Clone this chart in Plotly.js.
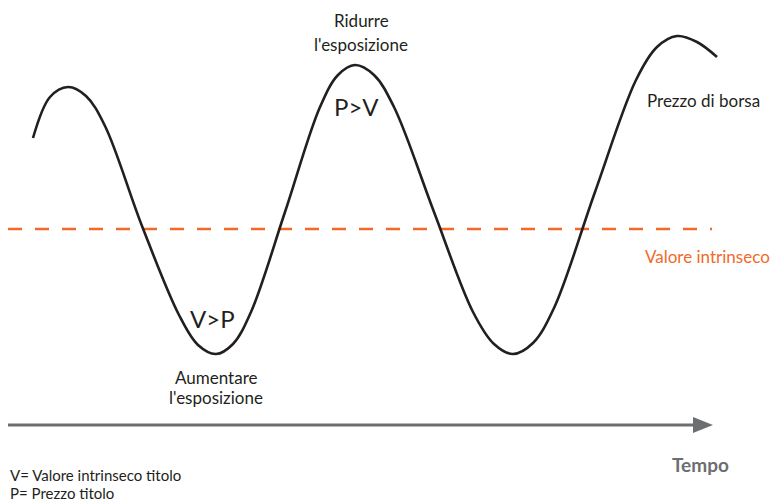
<!DOCTYPE html>
<html>
<head>
<meta charset="utf-8">
<script src="https://cdn.plot.ly/plotly-3.0.1.min.js"></script>
<style>html,body{margin:0;padding:0;background:#fff;}#chart{width:775px;height:503px;}</style>
</head>
<body>
<div id="chart"></div>
<script>
// Price curve samples (horizontal = time, vertical = price level, screen-like units, larger = lower)
var priceTime = [33,50,68,86,105,142,179,198,216,233,251,285,320,338,355,374,394,434,473,494,513,533,554,595,636,657,677,697,717];
var priceLevel = [138,97,87,96,126,226,315,345,354,344,312,212,107,75,65,75,107,212,312,344,354,343,308,192,80,47,36,42,57];
// Intrinsic value level
var valueTime = [8, 712];
var valueLevel = [229, 229];
// Time axis arrow
var timeArrow = [8, 713];
var timeArrowLevel = 425;

var dark = '#231F20';
var orange = '#F26A2A';
var grey = '#6D6E71';
var font = 'Lato, "Open Sans", sans-serif';

var traces = [
  {x: valueTime, y: valueLevel, mode: 'lines', line: {color: orange, width: 2.5, dash: '14px,13px'}, hoverinfo: 'skip'},
  {x: priceTime, y: priceLevel, mode: 'lines', line: {color: dark, width: 2.6, shape: 'spline', smoothing: 1}, hoverinfo: 'skip'}
];

var headLen = 20, headHalf = 8;
var tip = timeArrow[1];
var shapes = [
  {type: 'line', xref: 'x', yref: 'y', x0: timeArrow[0], x1: tip - headLen + 2, y0: timeArrowLevel, y1: timeArrowLevel, line: {color: grey, width: 3}},
  {type: 'path', xref: 'x', yref: 'y', path: 'M' + (tip - headLen) + ',' + (timeArrowLevel - headHalf) + ' L' + tip + ',' + timeArrowLevel + ' L' + (tip - headLen) + ',' + (timeArrowLevel + headHalf) + ' Z', fillcolor: grey, line: {width: 0}}
];

function txt(x, y, t, size, color, anchor, bold) {
  return {x: x, y: y, xref: 'x', yref: 'y', text: bold ? '<b>' + t + '</b>' : t, showarrow: false,
    xanchor: anchor || 'center', yanchor: 'middle', font: {family: font, size: size, color: color || dark}};
}

var annotations = [
  txt(361, 20, 'Ridurre', 17),
  txt(361, 44, "l'esposizione", 17),
  txt(356, 106, 'P&gt;V', 24),
  txt(212, 318, 'V&gt;P', 24),
  txt(216, 377, 'Aumentare', 17),
  txt(216, 397, "l'esposizione", 17),
  txt(645, 100, 'Prezzo di borsa', 17, dark, 'left'),
  txt(643, 256, 'Valore intrinseco', 17, orange, 'left'),
  txt(700, 464, 'Tempo', 19, grey, 'center', true),
  txt(8, 475, 'V= Valore intrinseco titolo', 15, dark, 'left'),
  txt(8, 493, 'P= Prezzo titolo', 15, dark, 'left')
];

var layout = {
  width: 775, height: 503,
  margin: {l: 0, r: 0, t: 0, b: 0},
  paper_bgcolor: '#fff', plot_bgcolor: '#fff',
  showlegend: false,
  xaxis: {range: [0, 775], visible: false, fixedrange: true},
  yaxis: {range: [503, 0], visible: false, fixedrange: true},
  shapes: shapes,
  annotations: annotations
};

Plotly.newPlot('chart', traces, layout, {staticPlot: true, displayModeBar: false});
</script>
</body>
</html>
